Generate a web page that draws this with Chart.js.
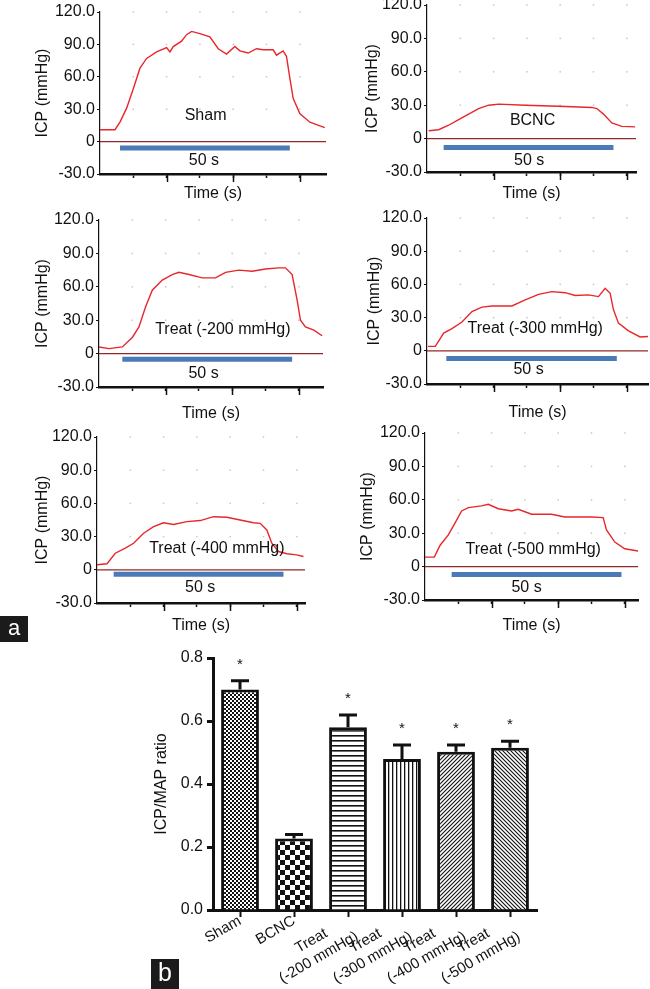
<!DOCTYPE html>
<html>
<head>
<meta charset="utf-8">
<title>ICP traces and ICP/MAP ratio</title>
<script src="https://cdn.jsdelivr.net/npm/chart.js"></script>
<style>
  body { margin: 0; background: #fff; }
  #page { position: relative; width: 650px; height: 989px; overflow: hidden; background: #fff; }
  #page canvas { position: absolute; }
  .tag {
    position: absolute; z-index: 5; background: #1b1b1b; color: #fff; text-align: center;
    font-family: 'Liberation Sans', Arial, sans-serif;
  }
</style>
</head>
<body>
<div id="page">
  <div class="tag" style="left:0;top:616px;width:28px;height:26px;line-height:24px;font-size:22px;">a</div>
  <div class="tag" style="left:151px;top:959px;width:28px;height:30px;line-height:27px;font-size:25px;">b</div>
</div>

<script>
    // ---- data ----
    const yTickValues = [-30, 0, 30, 60, 90, 120];
    const xTickValues = [10, 20, 30, 40, 50, 60];

    const shamT   = [0, 4.5, 6, 8, 10, 12, 14, 17, 20, 21, 22, 24.5, 26, 27.5, 30, 33, 35.5, 38, 40.5, 42, 44.5, 47, 49, 52, 53, 55, 56, 57, 58, 60, 63, 67.5];
    const shamIcp = [11, 11, 18, 31, 49, 68, 77, 83, 87, 83, 88, 93, 99, 102, 100, 97, 86, 81, 88, 84, 82, 86, 85, 85, 80, 84, 79, 59, 40, 26, 18, 13];

    const bcncT   = [0.5, 3.5, 6.5, 9.5, 12.5, 15.5, 18.5, 21.5, 29.5, 39.5, 49.5, 51, 53, 55.5, 58.5, 62.5];
    const bcncIcp = [7, 8, 12, 17, 22, 27, 30, 31, 30, 29, 28, 27, 22, 14, 11, 10.5];

    const t200T   = [0, 3, 7, 10, 12, 14, 16, 19, 22, 24, 27, 31, 35, 38, 42, 46, 50, 54, 56, 58, 59.5, 60.5, 62, 64.5, 67];
    const t200Icp = [6, 4.5, 6, 14.5, 24, 42, 57, 66, 71, 73, 71, 68, 68, 73, 75, 74, 76, 77, 77, 71, 48, 30, 24, 21, 16];

    const t300T   = [0.3, 2.5, 5, 7.5, 10.5, 13.5, 16.5, 19.5, 25.5, 29.5, 33.5, 37.5, 41.5, 44.5, 48.5, 51.5, 53.5, 55, 56, 57.5, 60.5, 64, 66.5];
    const t300Icp = [4, 4, 16, 20, 26, 35.5, 39.5, 40.5, 40.5, 46, 51, 53.5, 52.5, 50, 50.5, 49, 56.5, 52, 37, 25, 18, 12.5, 13];

    const t400T   = [0, 3, 5.5, 8.5, 11, 14, 17, 20, 23, 27, 31, 35, 39, 43, 47, 49, 51, 52.5, 54.5, 57, 60, 62];
    const t400Icp = [4.5, 5.5, 15, 19.5, 24, 33, 39, 42.5, 41, 43.5, 44.5, 48, 47.5, 45, 42.5, 42, 36, 24, 16.5, 14.5, 13.5, 12];

    const t500T   = [0, 2.8, 4.5, 7, 9, 11, 13, 17, 19, 22, 26, 28, 32, 38, 42, 50, 53.5, 54.5, 57, 60, 64];
    const t500Icp = [8.5, 8.5, 19, 28.5, 39, 50, 53, 54.5, 56, 52, 50, 51.5, 47, 47, 44.5, 44.5, 44, 33, 22, 16, 14];

    const traceNames = ['Sham', 'BCNC', 'Treat (-200 mmHg)', 'Treat (-300 mmHg)', 'Treat (-400 mmHg)', 'Treat (-500 mmHg)'];
    const stimStart = [6, 5, 7, 5.8, 5, 8];
    const stimEnd   = [57, 56, 58, 57, 56, 59];
    const stimLabel = '50 s';

    const barGroups = ['Sham', 'BCNC', ['Treat', '(-200 mmHg)'], ['Treat', '(-300 mmHg)'], ['Treat', '(-400 mmHg)'], ['Treat', '(-500 mmHg)']];
    const ratioMean = [0.70, 0.227, 0.58, 0.479, 0.502, 0.515];
    const ratioSem  = [0.028, 0.013, 0.039, 0.045, 0.022, 0.021];
    const starred   = [true, false, true, true, true, true];
    const ratioTicks = [0, 0.2, 0.4, 0.6, 0.8];

    // ---- layout (page pixels) ----
    const FONT = "'Liberation Sans', Arial, Helvetica, sans-serif";
    Chart.defaults.font.family = FONT;
    Chart.defaults.color = '#111';

    const traces = [[shamT, shamIcp], [bcncT, bcncIcp], [t200T, t200Icp], [t300T, t300Icp], [t400T, t400Icp], [t500T, t500Icp]];
    const panels = [
        { x0: 0,   l: 100, top: 12,  r: 326, b: 174, bottom: 203, yPad: 33, label: [31.7, 24],   fifty: [31.2, -18],  level: -6 },
        { x0: 325, l: 427, top: 5,   r: 636, b: 172, bottom: 203, yPad: 38, label: [31.7, 16.4], fifty: [30.7, -20],  level: -8 },
        { x0: 0,   l: 99,  top: 220, r: 323, b: 387, bottom: 423, yPad: 33, label: [37.2, 22],   fifty: [31.4, -18],  level: -5 },
        { x0: 325, l: 427, top: 218, r: 648, b: 384, bottom: 422, yPad: 40, label: [32.5, 20.3], fifty: [30.5, -17],  level: -7 },
        { x0: 0,   l: 97,  top: 437, r: 305, b: 603, bottom: 635, yPad: 33, label: [36, 19.5],   fifty: [31, -16.5],  level: -4 },
        { x0: 325, l: 425, top: 433, r: 638, b: 600, bottom: 635, yPad: 33, label: [32.5, 15.3], fifty: [30.5, -19],  level: -7 }
    ];
    const pxPerTenSec = 33.3;

    const page = document.getElementById('page');
    function makeCanvas(left, top, w, h) {
        const c = document.createElement('canvas');
        c.width = w; c.height = h;
        c.style.left = left + 'px'; c.style.top = top + 'px';
        c.style.width = w + 'px'; c.style.height = h + 'px';
        page.insertBefore(c, page.firstChild);
        return c;
    }

    // dotted grid, alternating x tick marks, in-plot texts
    const panelText = {
        id: 'panelText',
        beforeDatasetsDraw(chart, args, opts) {
            const { ctx, chartArea, scales: { x, y } } = chart;
            ctx.save();
            ctx.fillStyle = '#c8c8c8';
            xTickValues.forEach(tv => {
                yTickValues.filter(v => v > 0).forEach(v => {
                    ctx.fillRect(x.getPixelForValue(tv) - 0.75, y.getPixelForValue(v) - 0.75, 1.5, 1.5);
                });
            });
            // every second tick is longer
            ctx.strokeStyle = '#111';
            ctx.lineWidth = 1.5;
            xTickValues.forEach((tv, k) => {
                if (k % 2 === 1) {
                    const px = Math.round(x.getPixelForValue(tv)) + 0.5;
                    ctx.beginPath();
                    ctx.moveTo(px, chartArea.bottom);
                    ctx.lineTo(px, chartArea.bottom + 8);
                    ctx.stroke();
                }
            });
            ctx.restore();
        },
        afterDatasetsDraw(chart, args, opts) {
            const { ctx, scales: { x, y } } = chart;
            ctx.save();
            ctx.fillStyle = '#111';
            ctx.font = '16px ' + FONT;
            ctx.textAlign = 'center';
            ctx.textBaseline = 'middle';
            ctx.fillText(opts.name, x.getPixelForValue(opts.label[0]), y.getPixelForValue(opts.label[1]));
            ctx.fillText(stimLabel, x.getPixelForValue(opts.fifty[0]), y.getPixelForValue(opts.fifty[1]));
            ctx.restore();
        }
    };

    panels.forEach((p, i) => {
        const cw = p.x0 === 0 ? 330 : 325;
        const ctop = p.top - 15;
        const canvas = makeCanvas(p.x0, ctop, cw, p.bottom - ctop);
        const xmax = (p.r - p.l) / pxPerTenSec * 10;
        const [tArr, icpArr] = traces[i];

        new Chart(canvas, {
            type: 'line',
            data: {
                datasets: [
                    {
                        data: tArr.map((t, k) => ({ x: t, y: icpArr[k] })),
                        borderColor: '#e8262b', borderWidth: 1.4, pointRadius: 0, tension: 0
                    },
                    {
                        data: [{ x: stimStart[i], y: p.level }, { x: stimEnd[i], y: p.level }],
                        borderColor: '#4a7bb7', borderWidth: 5, pointRadius: 0, borderCapStyle: 'butt'
                    },
                    {
                        data: [{ x: 0, y: 0 }, { x: xmax, y: 0 }],
                        borderColor: '#8f2a2a', borderWidth: 1.2, pointRadius: 0
                    }
                ]
            },
            options: {
                responsive: false,
                animation: false,
                events: [],
                layout: { padding: { top: p.top - ctop, right: p.x0 + cw - p.r, left: 0, bottom: 0 } },
                plugins: {
                    legend: { display: false },
                    tooltip: { enabled: false },
                    panelText: { name: traceNames[i], label: p.label, fifty: p.fifty }
                },
                scales: {
                    x: {
                        type: 'linear', min: 0, max: xmax,
                        afterBuildTicks: s => { s.ticks = xTickValues.map(v => ({ value: v })); },
                        afterFit: s => { s.height = p.bottom - p.b; },
                        ticks: { display: false },
                        grid: { drawOnChartArea: false, tickLength: 4, tickWidth: 1.5, tickColor: '#111' },
                        border: { color: '#111', width: 2.5 },
                        title: { display: true, text: 'Time (s)', font: { size: 16 }, color: '#111', padding: 0 }
                    },
                    y: {
                        min: -30, max: 120,
                        afterBuildTicks: s => { s.ticks = yTickValues.map(v => ({ value: v })); },
                        afterFit: s => { s.width = p.l - p.x0; },
                        ticks: { callback: v => v === 0 ? '0' : v.toFixed(1), font: { size: 16 }, color: '#111', padding: 2 },
                        grid: { drawOnChartArea: false, tickLength: 3, tickColor: '#111' },
                        border: { color: '#111', width: 1.2 },
                        title: { display: true, text: 'ICP (mmHg)', font: { size: 16 }, color: '#111', padding: { top: p.yPad, bottom: 0 } }
                    }
                }
            },
            plugins: [panelText]
        });
    });

    // ---- bar chart (b) ----
    function makePattern(size, draw) {
        const c = document.createElement('canvas');
        c.width = size; c.height = size;
        const g = c.getContext('2d');
        g.fillStyle = '#fff';
        g.fillRect(0, 0, size, size);
        g.fillStyle = '#111';
        g.strokeStyle = '#111';
        draw(g, size);
        return g.createPattern(c, 'repeat');
    }
    const patterns = [
        makePattern(4, g => { g.fillRect(0, 0, 2, 2); g.fillRect(2, 2, 2, 2); }),
        makePattern(10, g => { g.fillRect(0, 0, 5, 5); g.fillRect(5, 5, 5, 5); }),
        makePattern(5, (g, s) => { g.fillRect(0, 0, s, 1.6); }),
        makePattern(4, (g, s) => { g.fillRect(0, 0, 1.3, s); }),
        makePattern(4, (g, s) => {
            g.lineWidth = 1.1; g.beginPath();
            g.moveTo(0, s); g.lineTo(s, 0);
            g.moveTo(-1, 1); g.lineTo(1, -1);
            g.moveTo(s - 1, s + 1); g.lineTo(s + 1, s - 1);
            g.stroke();
        }),
        makePattern(4, (g, s) => {
            g.lineWidth = 1.1; g.beginPath();
            g.moveTo(0, 0); g.lineTo(s, s);
            g.moveTo(-1, s - 1); g.lineTo(1, s + 1);
            g.moveTo(s - 1, -1); g.lineTo(s + 1, 1);
            g.stroke();
        })
    ];

    const errorBars = {
        id: 'errorBars',
        afterDatasetsDraw(chart) {
            const { ctx, scales: { y } } = chart;
            const bars = chart.getDatasetMeta(0).data;
            ctx.save();
            ctx.strokeStyle = '#111';
            ctx.fillStyle = '#111';
            ctx.lineWidth = 3;
            bars.forEach((bar, i) => {
                const yTop = y.getPixelForValue(ratioMean[i]);
                const yErr = y.getPixelForValue(ratioMean[i] + ratioSem[i]);
                ctx.beginPath();
                ctx.moveTo(bar.x, yTop);
                ctx.lineTo(bar.x, yErr);
                ctx.moveTo(bar.x - 9, yErr);
                ctx.lineTo(bar.x + 9, yErr);
                ctx.stroke();
                if (starred[i]) {
                    ctx.font = '15px ' + FONT;
                    ctx.textAlign = 'center';
                    ctx.textBaseline = 'middle';
                    ctx.fillText('*', bar.x, yErr - 16);
                }
            });
            ctx.restore();
        }
    };

    const barCanvas = makeCanvas(100, 640, 450, 349);
    new Chart(barCanvas, {
        type: 'bar',
        data: {
            labels: barGroups,
            datasets: [{
                data: ratioMean,
                backgroundColor: patterns,
                borderColor: '#111',
                borderWidth: 3,
                borderSkipped: 'bottom',
                barPercentage: 0.7,
                categoryPercentage: 1
            }]
        },
        options: {
            responsive: false,
            animation: false,
            events: [],
            layout: { padding: { top: 18, right: 13, left: 0, bottom: 0 } },
            plugins: { legend: { display: false }, tooltip: { enabled: false } },
            scales: {
                x: {
                    afterFit: s => { s.height = 79; },
                    ticks: {
                        autoSkip: false,
                        minRotation: 30, maxRotation: 30, font: { size: 15 }, color: '#111', padding: -5,
                        callback: (v, i) => {
                            const lab = barGroups[i];
                            // pad the short first line so both lines look centred
                            return Array.isArray(lab) ? [lab[0] + '      ', lab[1]] : lab;
                        }
                    },
                    grid: { drawOnChartArea: false, offset: false, tickLength: 7, tickWidth: 2, tickColor: '#111' },
                    border: { color: '#111', width: 3 }
                },
                y: {
                    min: 0, max: 0.8,
                    afterBuildTicks: s => { s.ticks = ratioTicks.map(v => ({ value: v })); },
                    afterFit: s => { s.width = 113; },
                    ticks: { callback: v => v.toFixed(1), font: { size: 16 }, color: '#111', padding: 4 },
                    grid: { drawOnChartArea: false, tickLength: 6, tickWidth: 3, tickColor: '#111' },
                    border: { color: '#111', width: 3 },
                    title: { display: true, text: 'ICP/MAP ratio', font: { size: 16 }, color: '#111', padding: { top: 52, bottom: 0 } }
                }
            }
        },
        plugins: [errorBars]
    });
</script>
</body>
</html>
